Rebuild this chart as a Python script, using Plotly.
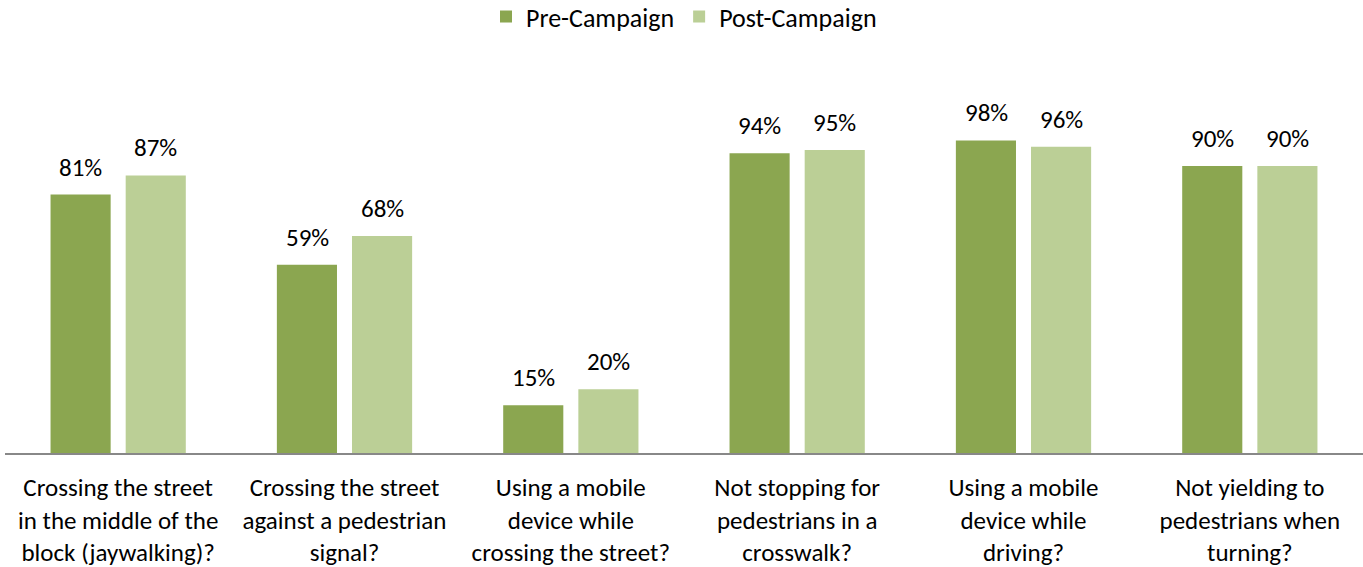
import plotly.graph_objects as go

categories = [
    "Crossing the street<br>in the middle of the<br>block (jaywalking)?",
    "Crossing the street<br>against a pedestrian<br>signal?",
    "Using a mobile<br>device while<br>crossing the street?",
    "Not stopping for<br>pedestrians in a<br>crosswalk?",
    "Using a mobile<br>device while<br>driving?",
    "Not yielding to<br>pedestrians when<br>turning?",
]
pre_campaign = [81, 59, 15, 94, 98, 90]
post_campaign = [87, 68, 20, 95, 96, 90]

FONT = "Carlito, Lato, sans-serif"
PRE_COLOR = "#8BA650"
POST_COLOR = "#BBCF96"

fig = go.Figure()
fig.add_trace(go.Bar(name="Pre-Campaign", x=categories, y=pre_campaign,
                     marker=dict(color=PRE_COLOR, line=dict(width=0))))
fig.add_trace(go.Bar(name="Post-Campaign", x=categories, y=post_campaign,
                     marker=dict(color=POST_COLOR, line=dict(width=0))))

# value labels above each bar
annotations = []
for vals, shift in ((pre_campaign, -37.5), (post_campaign, 37.5)):
    for cat, v in zip(categories, vals):
        annotations.append(dict(
            x=cat, y=v, xref="x", yref="y", text=f"{v}%", showarrow=False,
            xshift=shift, yshift=10, yanchor="bottom",
            font=dict(family=FONT, size=25, color="#000000"),
        ))

fig.update_layout(
    width=1363, height=567,
    margin=dict(l=5, r=0, t=134, b=114, autoexpand=False),
    paper_bgcolor="white", plot_bgcolor="white",
    barmode="group", bargap=0.336, bargroupgap=0.2,
    font=dict(family=FONT, size=25, color="#000000"),
    showlegend=True,
    legend=dict(orientation="h", x=0.5, xanchor="center", y=1.368, yanchor="middle",
                font=dict(family=FONT, size=26), itemwidth=30, traceorder="normal"),
    annotations=annotations,
    xaxis=dict(showline=True, linecolor="#888888", linewidth=2, ticks="",
               tickfont=dict(family=FONT, size=25), showgrid=False,
               ticklabelstandoff=11, automargin=False),
    yaxis=dict(range=[0, 100], visible=False, showgrid=False, zeroline=False,
               automargin=False),
)

fig.write_html("out.html")
